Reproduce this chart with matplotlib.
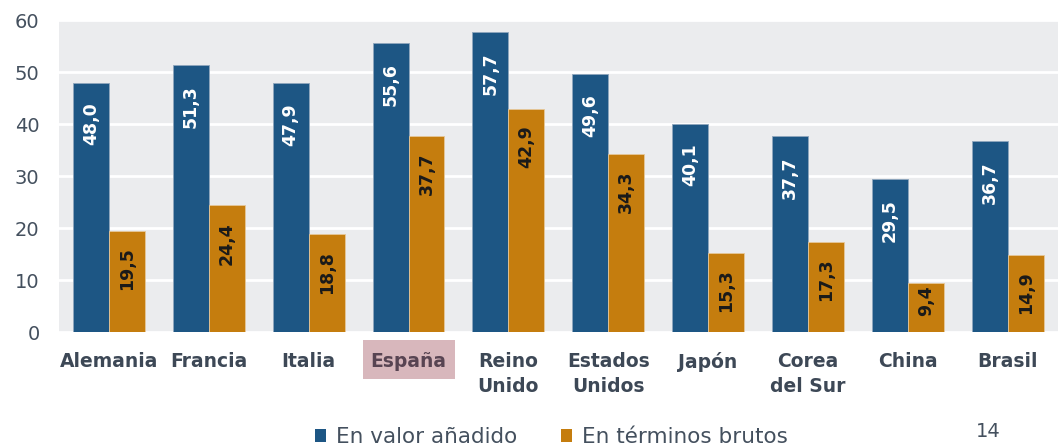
import numpy as np
import matplotlib
matplotlib.use("Agg")
import matplotlib.pyplot as plt
from matplotlib.patches import Patch, Rectangle

paises = ["Alemania", "Francia", "Italia", "España", "Reino\nUnido",
          "Estados\nUnidos", "Japón", "Corea\ndel Sur", "China", "Brasil"]
valor_anadido = [48.0, 51.3, 47.9, 55.6, 57.7, 49.6, 40.1, 37.7, 29.5, 36.7]
terminos_brutos = [19.5, 24.4, 18.8, 37.7, 42.9, 34.3, 15.3, 17.3, 9.4, 14.9]
yticks = [0, 10, 20, 30, 40, 50, 60]

azul = "#1d5684"
naranja = "#c57d0e"
gris_txt = "#44505e"

plt.rcParams['font.family'] = ['DejaVu Sans']

fig = plt.figure(figsize=(10.6, 4.47), dpi=100)
ax = fig.add_axes([0.0557, 0.257, 0.942, 0.698])
ax.set_facecolor("#ebecee")

x = np.arange(len(paises))
w = 0.36
b1 = ax.bar(x - w / 2, valor_anadido, w, color=azul, edgecolor="#8fa6bd", linewidth=0.6, zorder=3)
b2 = ax.bar(x + w / 2, terminos_brutos, w, color=naranja, edgecolor="#e6c89a", linewidth=0.6, zorder=3)

def fmt(v):
    return f"{v:.1f}".replace(".", ",")

ax.set_xlim(-0.5, len(paises) - 0.5)
ax.set_ylim(0, 60)

# pixels per data unit, to keep short-bar labels inside the bar
fig.canvas.draw()
px_per_unit = ax.bbox.height / 60.0
pt_per_px = 72.0 / fig.dpi

def put_labels(bars, vals, color, offset_pt):
    for rect, v in zip(bars, vals):
        t = ax.annotate(fmt(v), (rect.get_x() + rect.get_width() / 2, v),
                        xytext=(0, -offset_pt), textcoords="offset points",
                        rotation=90, ha="center", va="top", color=color,
                        fontsize=12.5, fontweight="bold", zorder=4)
        fig.canvas.draw()
        text_px = t.get_window_extent().height
        room_px = v * px_per_unit - text_px - 17
        if room_px < offset_pt / pt_per_px:
            t.xyann = (0, -max(room_px, 2) * pt_per_px)

put_labels(b1, valor_anadido, "white", 14.5)
put_labels(b2, terminos_brutos, "#1a1a1a", 12)

ax.set_yticks(yticks)
ax.tick_params(axis="y", length=0, labelsize=14, labelcolor=gris_txt, pad=14)
ax.tick_params(axis="x", length=0, pad=14)
ax.yaxis.grid(True, color="white", linewidth=2.0, zorder=1)
ax.set_axisbelow(True)
for s in ax.spines.values():
    s.set_visible(False)

ax.set_xticks(x)
ax.set_xticklabels(paises, fontsize=13.5, fontweight="bold", color="#3d4856",
                   va="top", linespacing=1.4)

# highlight box behind España
fig.canvas.draw()
for lbl in ax.get_xticklabels():
    if lbl.get_text() == "España":
        lbl.set_color("#584452")
        bb = lbl.get_window_extent()
        W, H = fig.bbox.width, fig.bbox.height
        x0 = bb.x0 - 8
        x1 = bb.x1 + 8
        y0 = bb.y0 - 8
        y1 = bb.y1 + 12
        fig.patches.append(Rectangle((x0 / W, y0 / H), (x1 - x0) / W, (y1 - y0) / H,
                                     transform=fig.transFigure, facecolor="#d8b7bc",
                                     edgecolor="none", zorder=-1))

handles = [Patch(facecolor=azul, label="En valor añadido"),
           Patch(facecolor=naranja, label="En términos brutos")]
fig.legend(handles=handles, loc="center", bbox_to_anchor=(0.52, 0.022), ncol=2,
           frameon=False, fontsize=15.5, handlelength=0.52, handleheight=0.52,
           handletextpad=0.45, columnspacing=2.05, labelcolor=gris_txt)

fig.text(0.932, 0.035, "14", fontsize=14, color=gris_txt, ha="center", va="center")

fig.savefig("out.png", dpi=100)
